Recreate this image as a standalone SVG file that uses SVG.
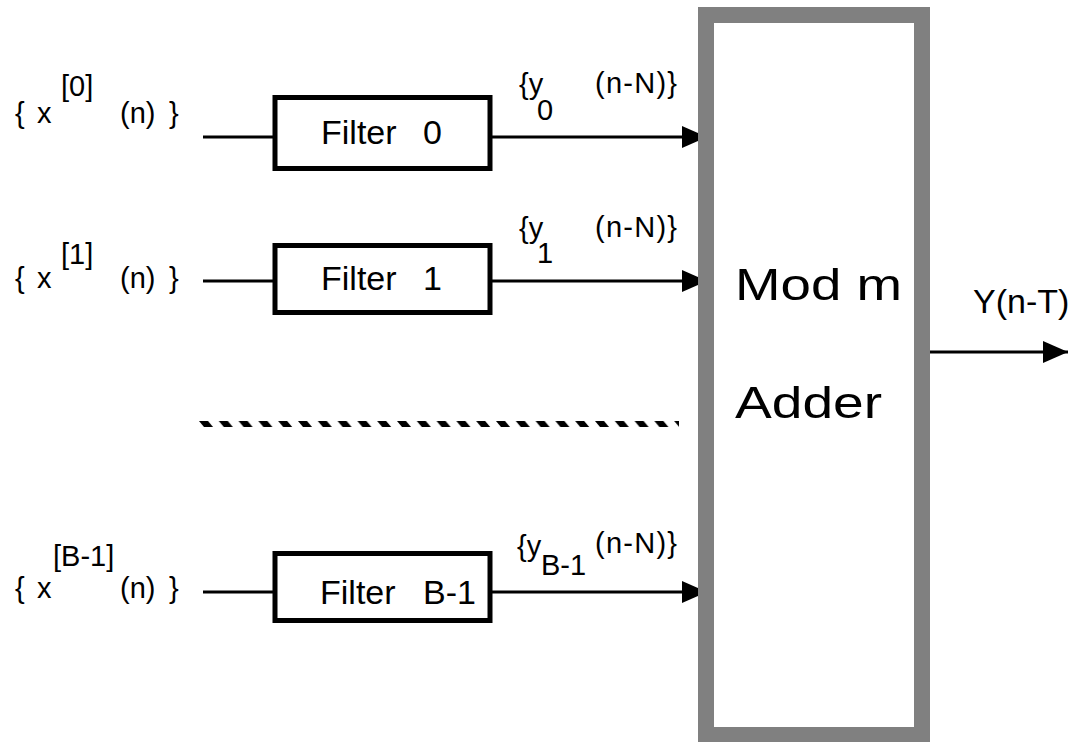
<svg xmlns="http://www.w3.org/2000/svg" width="1074" height="742" viewBox="0 0 1074 742">
  <defs>
    <style>
      .lbl { font-family: "Liberation Sans", Arial, sans-serif; font-size: 29px; fill: #000; }
      .flt { font-family: "Liberation Sans", Arial, sans-serif; font-size: 34px; fill: #000; }
      .big { font-family: "Liberation Sans", Arial, sans-serif; font-size: 44px; fill: #000; }
      .out { font-family: "Liberation Sans", Arial, sans-serif; font-size: 34px; fill: #000; }
      .box { fill: #fff; stroke: #000; stroke-width: 5; }
      .wire { stroke: #000; stroke-width: 3; fill: none; }
      .adder { fill: #fff; stroke: #808080; stroke-width: 16; }
    </style>
    <marker id="head" markerUnits="userSpaceOnUse" markerWidth="26" markerHeight="24" refX="25" refY="11" orient="auto">
      <path d="M0,0 L25,11 L0,22 Z" fill="#000"/>
    </marker>
    <!-- slanted dash tile for the ellipsis bar -->
    <pattern id="dash" patternUnits="userSpaceOnUse" x="199" y="421" width="19.8" height="6">
      <polygon points="0,0 9,0 14,6 5,6" fill="#000"/>
    </pattern>
  </defs>

  <rect width="1074" height="742" fill="#fff"/>

  <!-- connectors -->
  <g id="connectors">
    <line class="wire" x1="203" y1="137" x2="275" y2="137"/>
    <line class="wire" x1="203" y1="281" x2="275" y2="281"/>
    <line class="wire" x1="203" y1="592" x2="275" y2="592"/>
    <line class="wire" x1="492" y1="137" x2="707" y2="137" marker-end="url(#head)"/>
    <line class="wire" x1="492" y1="281" x2="707" y2="281" marker-end="url(#head)"/>
    <line class="wire" x1="492" y1="592" x2="707" y2="592" marker-end="url(#head)"/>
    <line class="wire" x1="922" y1="352" x2="1068" y2="352" marker-end="url(#head)"/>
  </g>

  <!-- ellipsis bar between filter 1 and filter B-1 -->
  <g id="ellipsis">
    <rect x="199" y="421" width="480" height="6" fill="url(#dash)"/>
  </g>

  <!-- adder -->
  <g id="adder">
    <rect class="adder" x="706" y="15" width="216" height="720"/>
    <text class="big" x="735" y="300" textLength="167" lengthAdjust="spacingAndGlyphs">Mod m</text>
    <text class="big" x="735" y="418" textLength="147" lengthAdjust="spacingAndGlyphs">Adder</text>
  </g>

  <!-- filters -->
  <g id="filter0">
    <rect class="box" x="275" y="97.5" width="215" height="71"/>
    <text class="flt" x="321" y="144">Filter</text>
    <text class="flt" x="423" y="144">0</text>
  </g>
  <g id="filter1">
    <rect class="box" x="275" y="245.5" width="215" height="67"/>
    <text class="flt" x="321" y="290">Filter</text>
    <text class="flt" x="423" y="290">1</text>
  </g>
  <g id="filterB1">
    <rect class="box" x="275" y="553.5" width="215" height="67"/>
    <text class="flt" x="320" y="604">Filter</text>
    <text class="flt" x="423" y="604">B-1</text>
  </g>

  <!-- input sequences -->
  <g id="input0">
    <text class="lbl" x="15" y="123">{</text>
    <text class="lbl" x="37" y="123">x</text>
    <text class="lbl" x="61" y="96">[0]</text>
    <text class="lbl" x="120" y="123">(n)</text>
    <text class="lbl" x="169" y="123">}</text>
  </g>
  <g id="input1">
    <text class="lbl" x="15" y="288">{</text>
    <text class="lbl" x="37" y="288">x</text>
    <text class="lbl" x="61" y="264">[1]</text>
    <text class="lbl" x="120" y="288">(n)</text>
    <text class="lbl" x="169" y="288">}</text>
  </g>
  <g id="inputB1">
    <text class="lbl" x="15" y="598">{</text>
    <text class="lbl" x="37" y="598">x</text>
    <text class="lbl" x="53" y="566">[B-1]</text>
    <text class="lbl" x="120" y="598">(n)</text>
    <text class="lbl" x="169" y="598">}</text>
  </g>

  <!-- filter outputs -->
  <g id="output0">
    <text class="lbl" x="519" y="94">{y</text>
    <text class="lbl" x="537" y="120">0</text>
    <text class="lbl" x="595" y="93" textLength="82">(n-N)}</text>
  </g>
  <g id="output1">
    <text class="lbl" x="519" y="238">{y</text>
    <text class="lbl" x="537" y="263">1</text>
    <text class="lbl" x="595" y="237" textLength="82">(n-N)}</text>
  </g>
  <g id="outputB1">
    <text class="lbl" x="517" y="556">{y</text>
    <text class="lbl" x="541" y="575">B-1</text>
    <text class="lbl" x="595" y="553" textLength="82">(n-N)}</text>
  </g>

  <!-- adder output -->
  <g id="result">
    <text class="out" x="973" y="313">Y(n-T)</text>
  </g>
</svg>
